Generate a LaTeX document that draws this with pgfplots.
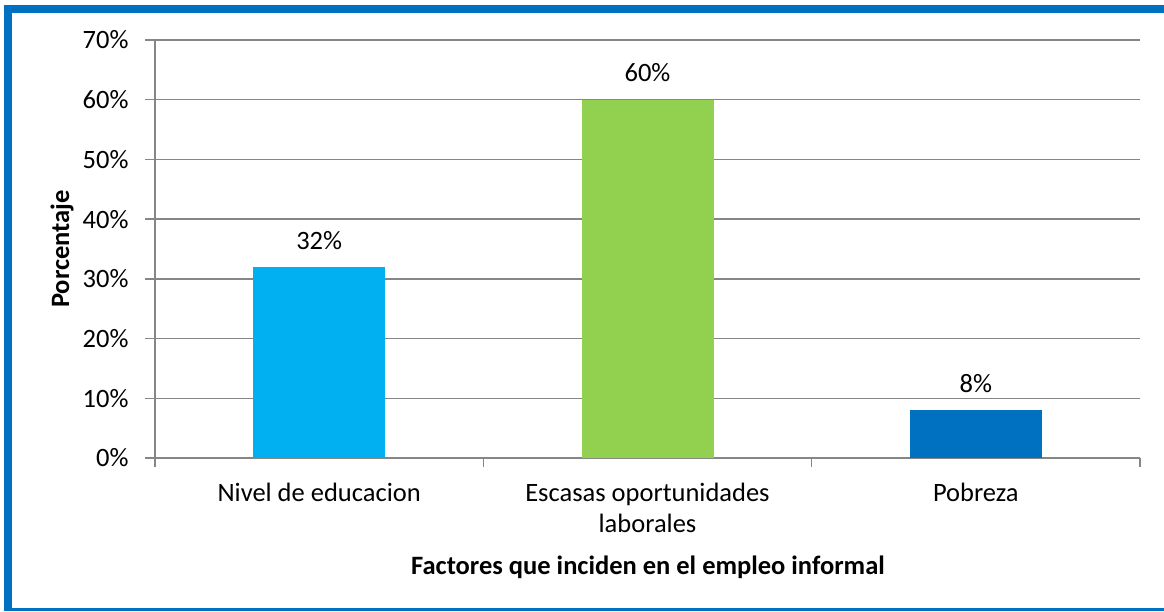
\documentclass[border=0pt]{standalone}
\usepackage{pgfplots}
\pgfplotsset{compat=1.18}
\usepackage{fontspec}
\setmainfont{Carlito}
\definecolor{frameblue}{HTML}{0070C0}
\definecolor{barcyan}{HTML}{00B0F0}
\definecolor{bargreen}{HTML}{92D050}
\definecolor{barblue}{HTML}{0070C0}
\definecolor{gridgray}{HTML}{868686}
\begin{document}
\begin{tikzpicture}
\useasboundingbox (0,0) rectangle (1164pt,611pt);
\fill[white] (0,0) rectangle (1164pt,611pt);
\fill[frameblue] (4pt,0pt) rectangle (12pt,606pt);
\fill[frameblue] (4pt,598pt) rectangle (1164pt,606pt);
\fill[frameblue] (4pt,0pt) rectangle (1164pt,3pt);
\begin{axis}[
  at={(155pt,153pt)}, anchor=south west,
  scale only axis, width=985pt, height=418pt,
  font=\fontsize{26.5}{31}\selectfont,
  /pgf/number format/assume math mode=true,
  xmin=-0.5, xmax=2.5, ymin=0, ymax=70,
  ytick={0,10,...,70},
  yticklabel={\pgfmathprintnumber{\tick}\%},
  yticklabel style={xshift=-13pt},
  xtick={0,1,2},
  xticklabels={Nivel de educacion,{Escasas oportunidades\\laborales},Pobreza},
  xticklabel style={align=center, yshift=-12pt},
  minor xtick={-0.5,0.5,1.5,2.5},
  x tick style={draw=none},
  minor x tick style={draw=gridgray, line width=1.5pt},
  y tick style={draw=gridgray, line width=1.5pt},
  tick align=outside,
  major tick length=10pt, minor tick length=9pt,
  axis lines*=left,
  axis line style={draw=gridgray, line width=1.5pt},
  ymajorgrids, grid style={draw=gridgray, line width=1.5pt},
  ybar, bar width=132pt, bar shift=0pt,
  nodes near coords={\pgfmathprintnumber{\pgfplotspointmeta}\%},
  every node near coord/.append style={font=\fontsize{26.5}{31}\selectfont, /pgf/number format/assume math mode=true, yshift=14pt},
  xlabel={\bfseries Factores que inciden en el empleo informal},
  ylabel={\bfseries Porcentaje},
  xlabel style={at={(axis description cs:0.5005,-0.2608)}, anchor=center},
  ylabel style={at={(axis description cs:-0.0944,0.5)}, anchor=center},
  clip=false,
]
\addplot[fill=barcyan, draw=none] coordinates {(0,32)};
\addplot[fill=bargreen, draw=none] coordinates {(1,60)};
\addplot[fill=barblue, draw=none] coordinates {(2,8)};
\end{axis}
\end{tikzpicture}
\end{document}
